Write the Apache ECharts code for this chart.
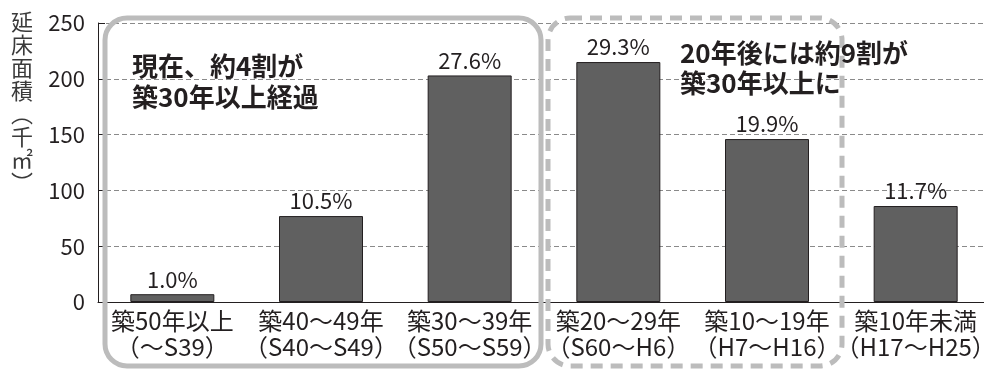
<!DOCTYPE html>
<html>
<head>
<meta charset="utf-8">
<script src="https://cdn.jsdelivr.net/npm/echarts@6/dist/echarts.min.js"></script>
<style>
  html, body { margin: 0; padding: 0; background: #fff; }
  #chart { width: 984px; height: 369px; }
</style>
</head>
<body>
<div id="chart"></div>
<script>
// 築年別の延床面積（千㎡）
const categories = [
  '築50年以上\n（〜S39）',
  '築40〜49年\n（S40〜S49）',
  '築30〜39年\n（S50〜S59）',
  '築20〜29年\n（S60〜H6）',
  '築10〜19年\n（H7〜H16）',
  '築10年未満\n（H17〜H25）'
];
const areaValues = [7, 77, 203, 215, 146, 86];
const shareLabels = ['1.0%', '10.5%', '27.6%', '29.3%', '19.9%', '11.7%'];
const yTicks = [0, 50, 100, 150, 200, 250];

const FONT = '"Noto Sans CJK JP", "Noto Sans", sans-serif';
const INK = '#231f20';
const FRAME = '#bcbcbc';

const chart = echarts.init(document.getElementById('chart'), null, { renderer: 'canvas' });

chart.setOption({
  animation: false,
  backgroundColor: '#fff',
  grid: {
    left: 98, top: 23, width: 892, bottom: 67,
    containLabel: false, outerBoundsMode: 'none'
  },
  xAxis: {
    type: 'category',
    data: categories,
    axisLine: { lineStyle: { color: INK, width: 1 } },
    axisTick: { inside: true, length: 7, lineStyle: { color: INK } },
    axisLabel: {
      interval: 0,
      color: INK, fontFamily: FONT, fontSize: 24, lineHeight: 26, margin: 6
    }
  },
  yAxis: {
    type: 'value',
    min: yTicks[0],
    max: yTicks[yTicks.length - 1],
    interval: 50,
    axisLine: { show: true, lineStyle: { color: INK, width: 1 } },
    axisTick: { show: true, inside: true, length: 7, lineStyle: { color: INK } },
    axisLabel: { color: INK, fontFamily: FONT, fontSize: 22, margin: 13 },
    splitLine: { show: true, lineStyle: { color: '#8a8a8a', type: [5, 3], width: 1 } }
  },
  series: [{
    type: 'bar',
    data: areaValues,
    barWidth: 84,
    itemStyle: { color: '#606060', borderColor: INK, borderWidth: 1 },
    label: {
      show: true,
      position: 'top',
      distance: 4,
      color: INK,
      fontFamily: FONT,
      fontSize: 22,
      formatter: p => shareLabels[p.dataIndex]
    },
    z: 3
  }],
  graphic: [
    // 現在の築30年以上を囲む枠
    {
      type: 'rect', z: 10, silent: true,
      shape: { x: 105, y: 18, width: 436, height: 348, r: 22 },
      style: { fill: 'none', stroke: FRAME, lineWidth: 5 }
    },
    // 20年後に築30年以上となる範囲の枠
    {
      type: 'rect', z: 10, silent: true,
      shape: { x: 548, y: 18, width: 294, height: 348, r: 22 },
      style: { fill: 'none', stroke: FRAME, lineWidth: 5, lineDash: [12, 8] }
    },
    {
      type: 'text', z: 11, left: 132, top: 51,
      style: {
        text: '現在、約4割が\n築30年以上経過',
        fill: INK, font: 'bold 26px ' + FONT, lineHeight: 31
      }
    },
    {
      type: 'text', z: 11, left: 680, top: 38,
      style: {
        text: '20年後には約9割が\n築30年以上に',
        fill: INK, font: 'bold 26px ' + FONT, lineHeight: 30
      }
    },
    // 縦書きの軸タイトル
    {
      type: 'text', z: 11, left: 11, top: 10,
      style: {
        text: '延\n床\n面\n積\n︵\n千\n㎡\n︶',
        fill: '#3a3a3a', font: '22px ' + FONT, lineHeight: 23, align: 'left'
      }
    }
  ]
});
</script>
</body>
</html>
